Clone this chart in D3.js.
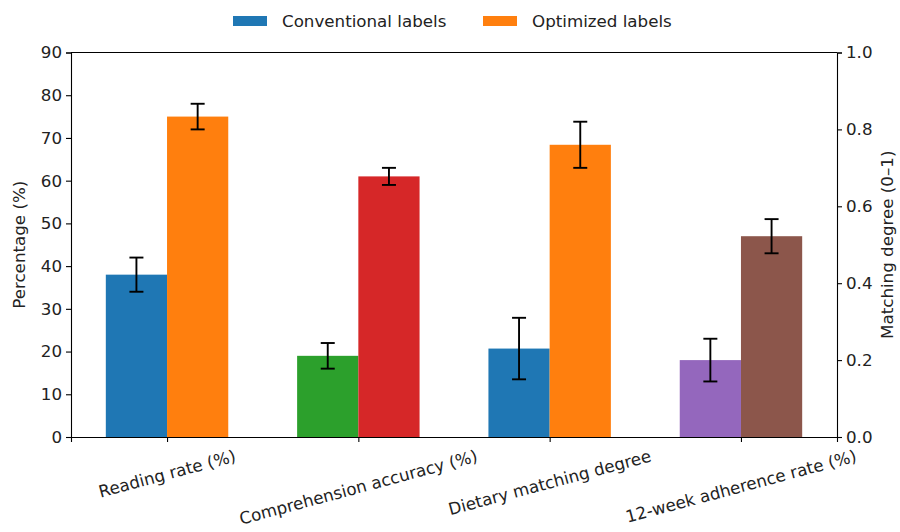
<!DOCTYPE html>
<html>
<head>
<meta charset="utf-8">
<script src="https://cdn.jsdelivr.net/npm/d3@7"></script>
<style>
  html, body { margin: 0; padding: 0; background: #fff; }
  svg { display: block; font-family: "DejaVu Sans", sans-serif; }
</style>
</head>
<body>
<svg id="chart" width="900" height="532"></svg>
<script>
// Metrics shown along the x axis
const categories = ["Reading rate (%)", "Comprehension accuracy (%)", "Dietary matching degree", "12-week adherence rate (%)"];
// Which y axis each metric is measured on
const axisOf = ["left", "left", "right", "left"];
// Conventional vs optimized labels: means and error half-widths
const conventional = [38, 19, 0.23, 18];
const conventionalErr = [4, 3, 0.08, 5];
const optimized = [75, 61, 0.76, 47];
const optimizedErr = [3, 2, 0.06, 4];
// Bar fills per metric
const conventionalColors = ["#1f77b4", "#2ca02c", "#1f77b4", "#9467bd"];
const optimizedColors = ["#ff7f0e", "#d62728", "#ff7f0e", "#8c564b"];
// Axis ticks
const leftTicks = [0, 10, 20, 30, 40, 50, 60, 70, 80, 90];
const rightTicks = [0, 0.2, 0.4, 0.6, 0.8, 1.0];
const seriesNames = ["Conventional labels", "Optimized labels"];

const svg = d3.select("#chart");
const fs = 16.7;
const plotL = 71, plotR = 837, plotT = 52.5, plotB = 437;
const barW = 0.32;

const x = d3.scaleLinear().domain([-0.502, 3.502]).range([plotL, plotR]);
const yL = d3.scaleLinear().domain([0, 90]).range([plotB, plotT]);
const yR = d3.scaleLinear().domain([0, 1]).range([plotB, plotT]);
const yFor = i => axisOf[i] === "right" ? yR : yL;

const bars = [];
categories.forEach((c, i) => {
  bars.push({ i, off: -barW / 2, v: conventional[i], e: conventionalErr[i], col: conventionalColors[i] });
  bars.push({ i, off: barW / 2, v: optimized[i], e: optimizedErr[i], col: optimizedColors[i] });
});

svg.append("g").selectAll("rect").data(bars).join("rect")
  .attr("x", d => x(d.i + d.off - barW / 2))
  .attr("width", d => x(barW) - x(0))
  .attr("y", d => yFor(d.i)(d.v))
  .attr("height", d => plotB - yFor(d.i)(d.v))
  .attr("fill", d => d.col);

// Error bars
const eb = svg.append("g").attr("stroke", "#000").attr("stroke-width", 1.9);
bars.forEach(d => {
  const y = yFor(d.i), cx = x(d.i + d.off);
  eb.append("line").attr("x1", cx).attr("x2", cx).attr("y1", y(d.v - d.e)).attr("y2", y(d.v + d.e));
  [d.v - d.e, d.v + d.e].forEach(v => {
    eb.append("line").attr("x1", cx - 7).attr("x2", cx + 7).attr("y1", y(v)).attr("y2", y(v));
  });
});

// Axes
const axL = svg.append("g").attr("transform", `translate(${plotL},0)`)
  .call(d3.axisLeft(yL).tickValues(leftTicks).tickSize(5).tickPadding(4).tickFormat(d3.format("d")));
const axR = svg.append("g").attr("transform", `translate(${plotR},0)`)
  .call(d3.axisRight(yR).tickValues(rightTicks).tickSize(5).tickPadding(4).tickFormat(d3.format(".1f")));
const axB = svg.append("g").attr("transform", `translate(0,${plotB})`)
  .call(d3.axisBottom(x).tickValues(d3.range(categories.length)).tickSize(5).tickFormat(() => ""));
svg.append("line").attr("x1", plotL).attr("x2", plotR).attr("y1", plotT).attr("y2", plotT)
  .attr("stroke", "#000").attr("stroke-width", 1.1);

[axL, axR, axB].forEach(a => {
  a.selectAll("path").attr("stroke", "#000").attr("stroke-width", 1.1);
  a.selectAll("line").attr("stroke", "#000").attr("stroke-width", 1.1);
  a.selectAll("text").attr("font-size", fs).attr("font-family", "DejaVu Sans").attr("fill", "#222");
});

// Rotated category labels, centred under each tick
const ang = 15 * Math.PI / 180;
categories.forEach((c, i) => {
  const t = svg.append("text").attr("font-size", fs).attr("fill", "#222")
    .attr("text-anchor", "middle").attr("dominant-baseline", "central").text(c);
  const w = t.node().getComputedTextLength();
  const h = fs * 1.16;
  const halfH = (w * Math.sin(ang) + h * Math.cos(ang)) / 2;
  const cy = plotB + 9 + halfH;
  t.attr("transform", `translate(${x(i)},${cy}) rotate(-15)`);
});

// Axis titles
svg.append("text").attr("font-size", fs).attr("fill", "#222").attr("text-anchor", "middle")
  .attr("transform", `translate(25,${(plotT + plotB) / 2}) rotate(-90)`).text("Percentage (%)");
svg.append("text").attr("font-size", fs).attr("fill", "#222").attr("text-anchor", "middle")
  .attr("transform", `translate(893,${(plotT + plotB) / 2}) rotate(-90)`).text("Matching degree (0\u20131)");

// Legend
const leg = svg.append("g");
const legX = [233, 483];
seriesNames.forEach((n, k) => {
  leg.append("rect").attr("x", legX[k]).attr("y", 16).attr("width", 34).attr("height", 10)
    .attr("fill", k === 0 ? "#1f77b4" : "#ff7f0e");
  leg.append("text").attr("x", legX[k] + 49).attr("y", 21).attr("dominant-baseline", "central")
    .attr("font-size", fs).attr("fill", "#222").text(n);
});
</script>
</body>
</html>
